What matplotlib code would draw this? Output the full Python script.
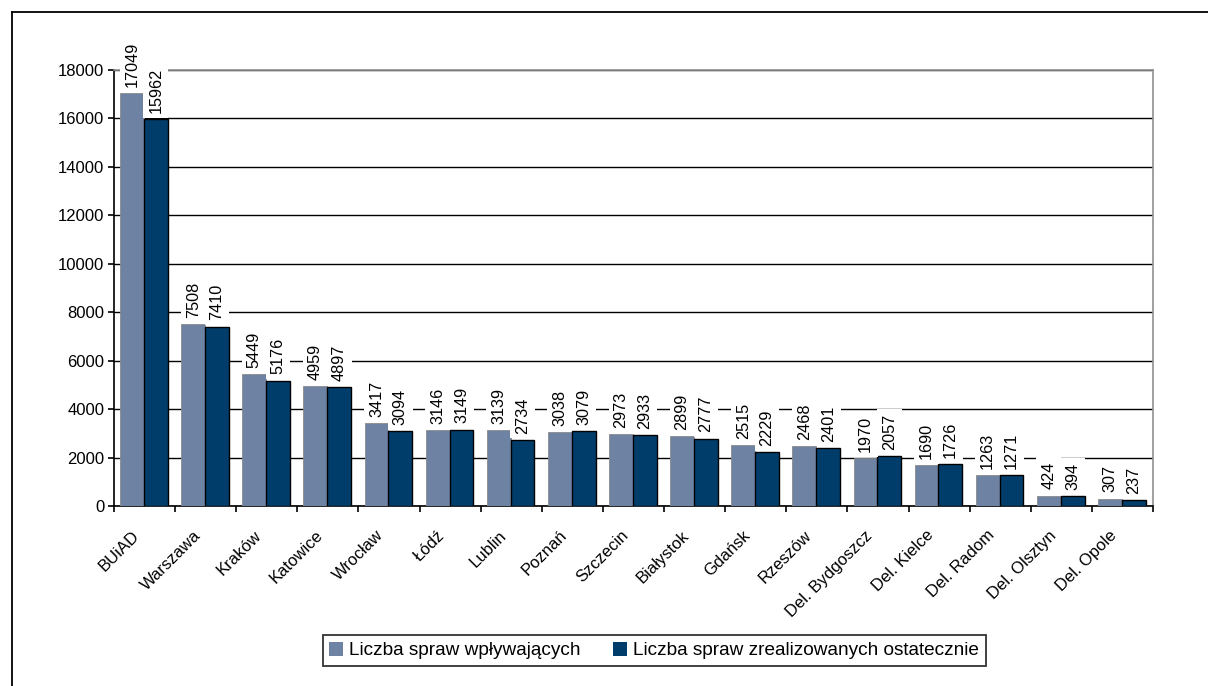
import matplotlib
matplotlib.use("Agg")
import matplotlib.pyplot as plt
from matplotlib.lines import Line2D
from matplotlib.patches import Patch
import matplotlib.transforms as mtransforms
import numpy as np

categories = ["BUiAD", "Warszawa", "Kraków", "Katowice", "Wrocław", "Łódź", "Lublin",
              "Poznań", "Szczecin", "Białystok", "Gdańsk", "Rzeszów", "Del. Bydgoszcz",
              "Del. Kielce", "Del. Radom", "Del. Olsztyn", "Del. Opole"]
incoming = [17049, 7508, 5449, 4959, 3417, 3146, 3139, 3038, 2973, 2899, 2515, 2468,
            1970, 1690, 1263, 424, 307]
completed = [15962, 7410, 5176, 4897, 3094, 3149, 2734, 3079, 2933, 2777, 2229, 2401,
             2057, 1726, 1271, 394, 237]
series_names = ["Liczba spraw wpływających", "Liczba spraw zrealizowanych ostatecznie"]
yticks = [0, 2000, 4000, 6000, 8000, 10000, 12000, 14000, 16000, 18000]

plt.rcParams['font.family'] = ['Liberation Sans', 'DejaVu Sans']

W, H = 1208, 686
fig = plt.figure(figsize=(W / 100, H / 100), dpi=100)
ax = fig.add_axes([114 / W, 1 - 506 / H, (1153 - 114) / W, (506 - 70) / H])

light = "#6E82A3"
dark = "#003D6B"
x = np.arange(len(categories))
bw = 0.39
b1 = ax.bar(x - 0.205, incoming, bw, color=light, edgecolor="#8a8a8a", linewidth=0.6, zorder=3)
b2 = ax.bar(x + 0.185, completed, bw, color=dark, edgecolor="black", linewidth=1.0, zorder=3)

for bars, vals in ((b1, incoming), (b2, completed)):
    for r, v in zip(bars, vals):
        ax.annotate(str(v), (r.get_x() + r.get_width() / 2, r.get_height()),
                    xytext=(0, 4.5), textcoords="offset points", rotation=90,
                    ha="center", va="bottom", fontsize=11.7, zorder=4,
                    bbox=dict(boxstyle="square,pad=0.3", fc="white", ec="none"))

ax.set_xlim(-0.5, len(categories) - 0.5)
ax.set_ylim(0, 18000)
ax.set_yticks(yticks)
ax.set_yticklabels([str(t) for t in yticks], fontsize=12)
ax.yaxis.grid(True, color="black", linewidth=1.0, zorder=0)
ax.set_axisbelow(True)

ax.set_xticks(x)
ax.set_xticklabels(categories, rotation=45, ha="right", rotation_mode="anchor", fontsize=12)
ax.tick_params(axis="x", which="major", length=0, pad=12)
offset = mtransforms.ScaledTranslation(-13 / 100, -5 / 100, fig.dpi_scale_trans)
for lbl in ax.get_xticklabels():
    lbl.set_transform(lbl.get_transform() + offset)
ax.set_xticks(np.arange(-0.5, len(categories), 1.0), minor=True)
ax.tick_params(axis="x", which="minor", length=4, width=1.2, color="black", direction="out")
ax.tick_params(axis="y", length=4, width=1.2, direction="out", pad=3)

for s in ("left", "bottom"):
    ax.spines[s].set_color("black")
    ax.spines[s].set_linewidth(1.2)
for s in ("top", "right"):
    ax.spines[s].set_color("#909090")
    ax.spines[s].set_linewidth(1.2)

handles = [Patch(facecolor=light, edgecolor="none"), Patch(facecolor=dark, edgecolor="none")]
leg = fig.legend(handles, series_names, loc="center",
                 bbox_to_anchor=(654 / W, 1 - 650.5 / H), ncol=2, fontsize=13.7,
                 frameon=True, fancybox=False, edgecolor="black", handlelength=0.75,
                 handleheight=0.75, handletextpad=0.3, columnspacing=1.7, borderpad=0.35)
leg.get_frame().set_linewidth(1.3)

# outer frame
fig.add_artist(Line2D([12 / W, 1.0], [1 - 12 / H, 1 - 12 / H], color="black", lw=1.3,
                      transform=fig.transFigure))
fig.add_artist(Line2D([12 / W, 12 / W], [0, 1 - 12 / H], color="black", lw=1.3,
                      transform=fig.transFigure))

fig.savefig("out.png", dpi=100)
